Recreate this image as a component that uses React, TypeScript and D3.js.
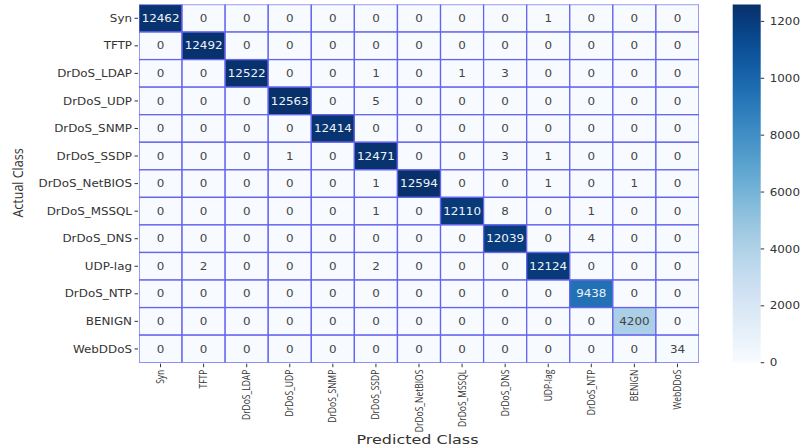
import React from "react";
import * as d3 from "d3";

const classes = [
  "Syn", "TFTP", "DrDoS_LDAP", "DrDoS_UDP", "DrDoS_SNMP", "DrDoS_SSDP",
  "DrDoS_NetBIOS", "DrDoS_MSSQL", "DrDoS_DNS", "UDP-lag", "DrDoS_NTP", "BENIGN", "WebDDoS",
];

const rowSyn = [12462, 0, 0, 0, 0, 0, 0, 0, 0, 1, 0, 0, 0];
const rowTFTP = [0, 12492, 0, 0, 0, 0, 0, 0, 0, 0, 0, 0, 0];
const rowLDAP = [0, 0, 12522, 0, 0, 1, 0, 1, 3, 0, 0, 0, 0];
const rowUDP = [0, 0, 0, 12563, 0, 5, 0, 0, 0, 0, 0, 0, 0];
const rowSNMP = [0, 0, 0, 0, 12414, 0, 0, 0, 0, 0, 0, 0, 0];
const rowSSDP = [0, 0, 0, 1, 0, 12471, 0, 0, 3, 1, 0, 0, 0];
const rowNetBIOS = [0, 0, 0, 0, 0, 1, 12594, 0, 0, 1, 0, 1, 0];
const rowMSSQL = [0, 0, 0, 0, 0, 1, 0, 12110, 8, 0, 1, 0, 0];
const rowDNS = [0, 0, 0, 0, 0, 0, 0, 0, 12039, 0, 4, 0, 0];
const rowUDPlag = [0, 2, 0, 0, 0, 2, 0, 0, 0, 12124, 0, 0, 0];
const rowNTP = [0, 0, 0, 0, 0, 0, 0, 0, 0, 0, 9438, 0, 0];
const rowBENIGN = [0, 0, 0, 0, 0, 0, 0, 0, 0, 0, 0, 4200, 0];
const rowWebDDoS = [0, 0, 0, 0, 0, 0, 0, 0, 0, 0, 0, 0, 34];

const matrix = [
  rowSyn, rowTFTP, rowLDAP, rowUDP, rowSNMP, rowSSDP, rowNetBIOS,
  rowMSSQL, rowDNS, rowUDPlag, rowNTP, rowBENIGN, rowWebDDoS,
];

const colorbarTicks = [0, 2000, 4000, 6000, 8000, 10000, 12000];

const W = 800;
const H = 447;
const gx0 = 139;
const gx1 = 699;
const gy0 = 4.5;
const gy1 = 362.7;
const SX = 1.19;
const cbX0 = 732.7;
const cbX1 = 760.7;

export default function App() {
  const vmax = d3.max(matrix.flat()) as number;
  const x = d3.scaleBand<string>().domain(classes).range([gx0, gx1]);
  const y = d3.scaleBand<string>().domain(classes).range([gy0, gy1]);
  const color = d3.scaleSequential(d3.interpolateBlues).domain([0, vmax]);
  const cbY = d3.scaleLinear().domain([0, vmax]).range([gy1, gy0]);
  const stops = d3.range(0, 1.0001, 0.05);

  const cells: { r: number; c: number; v: number }[] = [];
  matrix.forEach((row, r) => row.forEach((v, c) => cells.push({ r, c, v })));

  const lineColor = "rgb(100,100,238)";

  return (
    <svg
      width={W}
      height={H}
      style={{ position: "absolute", left: 0, top: 0, background: "#fff" }}
    >
      <defs>
        <clipPath id="gridClip">
          <rect x={gx0} y={gy0} width={gx1 - gx0} height={gy1 - gy0} />
        </clipPath>
        <linearGradient id="cbGrad" x1="0" y1="1" x2="0" y2="0">
          {stops.map((t) => (
            <stop key={t} offset={t} stopColor={d3.interpolateBlues(t)} />
          ))}
        </linearGradient>
      </defs>

      <g clipPath="url(#gridClip)">
        {cells.map(({ r, c, v }) => (
          <rect
            key={`c${r}-${c}`}
            x={x(classes[c])}
            y={y(classes[r])}
            width={x.bandwidth()}
            height={y.bandwidth()}
            fill={color(v)}
            stroke={lineColor}
            strokeWidth={1.3}
          />
        ))}
      </g>

      {cells.map(({ r, c, v }) => {
        const cx = (x(classes[c]) as number) + x.bandwidth() / 2;
        const cy = (y(classes[r]) as number) + y.bandwidth() / 2;
        const dark = v / vmax > 0.6;
        return (
          <g key={`t${r}-${c}`} transform={`translate(${cx},${cy}) scale(${SX},1)`}>
            <text
              textAnchor="middle"
              dy="0.36em"
              fontFamily="DejaVu Sans"
              fontSize={10}
              fill={dark ? "#eef3f8" : "#444"}
            >
              {v}
            </text>
          </g>
        );
      })}

      {/* y axis ticks */}
      {classes.map((cl) => {
        const cy = (y(cl) as number) + y.bandwidth() / 2;
        return (
          <g key={`y${cl}`}>
            <line x1={gx0 - 4.5} x2={gx0 - 1} y1={cy} y2={cy} stroke="#333" strokeWidth={1} />
            <g transform={`translate(${gx0 - 7},${cy}) scale(${SX},1)`}>
              <text textAnchor="end" dy="0.36em" fontFamily="DejaVu Sans" fontSize={10} fill="#333">
                {cl}
              </text>
            </g>
          </g>
        );
      })}

      {/* x axis ticks */}
      {classes.map((cl) => {
        const cx = (x(cl) as number) + x.bandwidth() / 2;
        return (
          <g key={`x${cl}`}>
            <line x1={cx} x2={cx} y1={gy1 + 1} y2={gy1 + 4.5} stroke="#333" strokeWidth={1} />
            <g transform={`translate(${cx},${gy1 + 7}) scale(${SX},1) rotate(-90)`}>
              <text textAnchor="end" dy="0.35em" fontFamily="Open Sans" fontSize={8.5} fill="#333">
                {cl}
              </text>
            </g>
          </g>
        );
      })}

      {/* axis titles */}
      <g transform={`translate(18,183) scale(${SX},1) rotate(-90)`}>
        <text textAnchor="middle" dy="0.35em" fontFamily="Open Sans" fontSize={12.5} fill="#333">
          Actual Class
        </text>
      </g>
      <text
        x={356.5}
        y={444}
        textLength={122}
        lengthAdjust="spacingAndGlyphs"
        fontFamily="DejaVu Sans"
        fontSize={11.5}
        fill="#333"
      >
        Predicted Class
      </text>

      {/* colorbar */}
      <rect x={cbX0} y={gy0} width={cbX1 - cbX0} height={gy1 - gy0} fill="url(#cbGrad)" />
      {colorbarTicks.map((t) => (
        <g key={`cb${t}`}>
          <line x1={cbX1} x2={cbX1 + 3.5} y1={cbY(t)} y2={cbY(t)} stroke="#333" strokeWidth={1} />
          <g transform={`translate(${cbX1 + 9},${cbY(t)}) scale(${SX},1)`}>
            <text dy="0.36em" fontFamily="DejaVu Sans" fontSize={10} fill="#333">
              {t}
            </text>
          </g>
        </g>
      ))}
    </svg>
  );
}
